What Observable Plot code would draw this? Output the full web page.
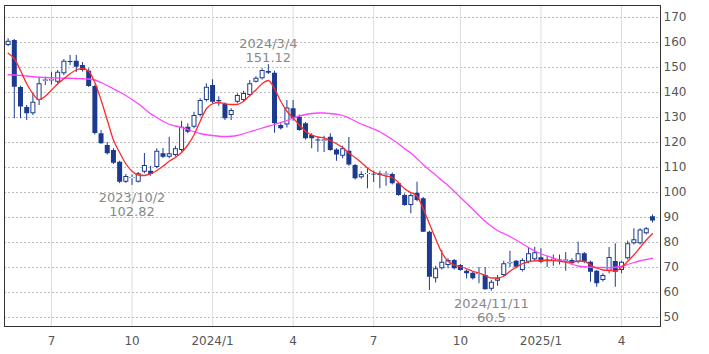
<!DOCTYPE html>
<html><head><meta charset="utf-8">
<script src="https://cdn.jsdelivr.net/npm/d3@7"></script>
<script src="https://cdn.jsdelivr.net/npm/@observablehq/plot@0.6"></script>
<style>body{margin:0;background:#fff;}</style>
</head><body><div id="chart"></div>
<script>
const weeks = ["2023-05-15","2023-05-22","2023-05-29","2023-06-05","2023-06-12","2023-06-19","2023-06-26",
"2023-07-03","2023-07-10","2023-07-17","2023-07-24","2023-07-31","2023-08-07","2023-08-14","2023-08-21","2023-08-28",
"2023-09-04","2023-09-11","2023-09-18","2023-09-25","2023-10-02","2023-10-09","2023-10-16","2023-10-23","2023-10-30",
"2023-11-06","2023-11-13","2023-11-20","2023-11-27","2023-12-04","2023-12-11","2023-12-18","2023-12-25",
"2024-01-01","2024-01-08","2024-01-15","2024-01-22","2024-01-29","2024-02-05","2024-02-12","2024-02-19","2024-02-26",
"2024-03-04","2024-03-11","2024-03-18","2024-03-25","2024-04-01","2024-04-08","2024-04-15","2024-04-22","2024-04-29",
"2024-05-06","2024-05-13","2024-05-20","2024-05-27","2024-06-03","2024-06-10","2024-06-17","2024-06-24",
"2024-07-01","2024-07-08","2024-07-15","2024-07-22","2024-07-29","2024-08-05","2024-08-12","2024-08-19","2024-08-26",
"2024-09-02","2024-09-09","2024-09-16","2024-09-23","2024-09-30","2024-10-07","2024-10-14","2024-10-21","2024-10-28",
"2024-11-04","2024-11-11","2024-11-18","2024-11-25","2024-12-02","2024-12-09","2024-12-16","2024-12-23","2024-12-30",
"2025-01-06","2025-01-13","2025-01-20","2025-01-27","2025-02-03","2025-02-10","2025-02-17","2025-02-24",
"2025-03-03","2025-03-10","2025-03-17","2025-03-24","2025-03-31","2025-04-07","2025-04-14","2025-04-21","2025-04-28",
"2025-05-05","2025-05-12"];

const open = [158.8,160.8,142.0,134.0,131.5,136.8,144.5,
144.6,144.1,147.5,152.4,152.5,150.8,148.5,142.4,123.5,
118.8,116.8,112.1,104.1,105.6,104.1,108.1,108.5,110.0,
115.5,114.1,114.8,116.8,126.1,126.1,130.8,136.8,
142.8,136.8,135.2,130.8,136.1,136.8,138.8,144.1,145.5,
148.4,147.7,126.8,127.0,133.5,130.1,127.5,122.8,121.0,
120.5,122.1,117.0,114.5,116.5,110.8,105.9,107.2,
107.3,107.4,107.0,107.2,103.5,98.8,94.8,99.7,97.5,
84.1,65.5,69.5,70.8,72.8,70.8,68.5,67.7,67.2,
66.8,61.3,64.5,66.8,71.5,72.5,68.8,72.1,73.1,
73.9,73.0,72.8,73.0,72.5,72.8,72.1,75.5,
72.1,68.5,64.8,68.5,72.4,68.8,73.5,79.5,79.5,
83.5,90.3];

const high = [161.5,161.2,142.5,134.8,139.5,146.1,146.1,
148.1,148.8,153.2,154.8,154.8,152.0,149.5,143.0,124.8,
120.0,117.5,112.5,107.2,107.0,108.0,115.6,110.5,117.5,
117.6,122.1,118.5,128.5,127.5,132.1,137.5,143.5,
145.1,138.3,135.8,133.5,139.5,140.5,144.8,146.3,149.5,
151.12,148.5,127.5,136.8,136.8,131.0,128.0,123.5,121.8,
122.5,123.5,117.5,118.5,122.0,111.2,108.3,109.5,
108.5,108.5,108.3,107.8,104.0,99.5,99.5,104.1,98.0,
84.5,70.5,76.8,73.5,73.2,71.2,69.0,68.2,70.0,
70.0,64.8,66.8,72.5,76.5,72.8,73.5,77.6,78.1,
77.5,74.5,75.0,75.0,76.0,73.5,80.1,76.0,
72.5,68.8,67.5,78.0,79.5,72.5,80.5,85.5,85.5,
86.0,91.0];

const low = [158.3,129.5,129.5,128.8,130.8,134.8,142.8,
143.0,143.5,146.8,150.8,148.0,148.2,142.0,123.0,119.3,
115.0,111.2,103.6,103.6,102.82,103.8,107.5,106.5,109.5,
113.6,113.5,114.2,116.2,123.5,125.5,130.2,136.2,
135.5,134.5,128.8,128.8,135.5,136.2,138.2,143.8,145.0,
147.2,123.7,125.0,125.8,128.5,124.5,121.0,117.5,116.1,
116.0,116.5,112.5,113.5,110.5,105.0,105.3,101.5,
104.0,101.5,102.5,103.0,98.5,94.5,91.5,96.3,84.0,
60.8,63.8,69.0,69.5,69.0,68.5,65.5,65.0,63.5,
61.0,60.5,62.5,66.5,70.0,69.5,68.2,71.5,72.5,
71.5,70.0,70.5,71.0,68.5,71.0,71.5,71.5,
64.1,62.1,64.2,67.5,62.1,67.5,73.0,79.0,79.0,
83.0,87.8];

const close = [160.5,142.1,134.2,131.5,136.1,143.5,145.0,
145.1,148.1,152.5,152.0,150.1,148.8,142.4,123.6,119.5,
115.5,111.7,104.1,106.4,105.9,107.5,110.8,107.2,116.5,
114.1,115.5,117.5,126.1,124.1,130.8,136.8,142.1,
136.1,136.3,129.5,132.8,138.8,139.6,143.5,145.7,148.8,
147.7,127.5,125.5,133.8,129.5,124.8,121.5,121.5,120.6,
121.0,116.8,115.0,117.5,111.0,105.5,107.2,107.6,
107.0,106.8,107.4,103.5,98.8,94.8,98.8,96.8,84.1,
66.1,69.5,72.1,72.8,69.5,68.8,67.5,65.5,67.6,
61.1,64.1,65.5,71.5,72.0,70.1,72.8,75.5,75.9,
72.1,72.4,73.3,72.6,73.0,71.5,75.5,72.1,
68.1,63.5,66.8,74.0,68.1,72.1,79.5,81.1,85.0,
85.5,88.6];

// short moving average (red)
const maShort = [155.7,153.5,148.8,143.5,139.5,137.1,138.5,
141.0,143.5,145.5,147.5,149.0,149.6,148.5,144.0,137.0,
129.0,121.0,116.0,111.5,108.5,107.0,106.8,107.5,108.8,
110.5,112.5,114.0,116.0,119.0,123.0,128.5,133.5,
135.5,136.0,135.5,135.2,135.2,136.5,138.8,141.0,143.5,
144.8,141.5,136.5,132.5,129.8,127.0,124.5,123.0,122.2,
121.8,120.8,119.5,118.0,115.8,114.0,112.0,109.8,
108.2,107.2,106.6,106.0,104.0,101.5,100.0,98.5,93.5,
87.5,81.5,76.0,72.5,71.0,70.3,69.5,68.5,67.8,
66.8,65.8,65.8,66.5,68.5,70.1,71.5,72.3,72.7,
72.8,72.8,72.8,72.5,72.2,72.2,72.5,72.5,
71.0,69.8,69.0,68.8,68.6,70.0,72.5,75.0,78.0,
81.0,83.5];

// long moving average (magenta)
const maLong = [147.1,147.0,146.8,146.6,146.3,146.1,146.0,
145.9,145.8,145.7,145.7,145.6,145.5,145.4,145.0,144.0,
142.8,141.5,140.2,138.8,137.2,135.5,133.5,131.5,130.0,
128.5,127.3,126.6,126.0,125.2,124.3,123.6,123.1,
122.8,122.5,122.4,122.5,122.8,123.5,124.3,125.0,125.8,
126.5,127.2,128.0,128.8,129.8,130.6,131.2,131.6,131.8,
131.8,131.6,131.3,130.8,129.8,128.6,127.4,126.4,
125.4,124.3,122.8,121.2,119.5,117.5,115.8,113.5,111.2,
109.0,107.0,104.8,102.8,100.5,98.0,95.7,93.3,90.8,
88.5,86.5,84.8,83.6,82.4,81.0,79.5,78.0,76.6,
75.5,74.6,73.8,73.0,72.2,71.3,70.6,70.3,
70.1,70.0,70.0,69.9,70.1,70.5,71.2,72.0,72.7,
73.2,73.7];

const tickDates = ["2023-07-03","2023-10-02","2024-01-01","2024-04-01","2024-07-01","2024-10-07","2025-01-06","2025-04-07"];
const tickLabels = ["7","10","2024/1","4","7","10","2025/1","4"];
const yTicks = [50,60,70,80,90,100,110,120,130,140,150,160,170];

const highNoteDates = ["2024-03-04"];
const highNoteValues = [151.12];
const highNoteLabels = ["2024/3/4\n151.12"];
const lowNoteDates = ["2023-10-02","2024-11-11"];
const lowNoteValues = [102.82,60.5];
const lowNoteLabels = ["2023/10/2\n102.82","2024/11/11\n60.5"];

const navy = "#1c3b8e";
const data = weeks.map((w, i) => ({
  date: new Date(w), open: open[i], high: high[i], low: low[i], close: close[i],
  top: Math.max(open[i], close[i]), bot: Math.min(open[i], close[i]),
  up: close[i] >= open[i], maS: maShort[i], maL: maLong[i]
}));
const tickObjs = tickDates.map(d => new Date(d));
const labelMap = new Map(tickObjs.map((d, i) => [+d, tickLabels[i]]));
const highNotes = highNoteDates.map((d, i) => ({date: new Date(d), v: highNoteValues[i], t: highNoteLabels[i]}));
const lowNotes = lowNoteDates.map((d, i) => ({date: new Date(d), v: lowNoteValues[i], t: lowNoteLabels[i]}));

const chart = Plot.plot({
  width: 709, height: 354,
  marginLeft: 4, marginRight: 49, marginTop: 5, marginBottom: 28,
  style: {fontFamily: "DejaVu Sans, Verdana, sans-serif", fontSize: "12px", color: "#555", background: "#fff"},
  x: {type: "utc", domain: [new Date("2023-05-10T22:00Z"), new Date("2025-05-21T02:00Z")],
      ticks: tickObjs, tickFormat: d => labelMap.get(+d), tickSize: 0, tickPadding: 10, label: null},
  y: {domain: [46.4, 174.8], axis: "right", ticks: yTicks, tickSize: 0, tickPadding: 3, label: null},
  marks: [
    Plot.ruleY(yTicks, {stroke: "#bbb", strokeDasharray: "2,2"}),
    Plot.ruleX(tickObjs, {stroke: "#ddd"}),
    Plot.ruleX(data, {x: "date", y1: "low", y2: "high", stroke: navy, strokeWidth: 1}),
    Plot.ruleX(data, {x: "date", y1: "top", y2: "bot", stroke: navy, strokeWidth: 5}),
    Plot.ruleX(data.filter(d => d.up), {x: "date", y1: "top", y2: "bot", stroke: "#fff", strokeWidth: 3, insetTop: 1, insetBottom: 1}),
    Plot.line(data, {x: "date", y: "maL", stroke: "#ff44ff", strokeWidth: 1.3, curve: "monotone-x"}),
    Plot.line(data, {x: "date", y: "maS", stroke: "#ff2a2a", strokeWidth: 1.3, curve: "monotone-x"}),
    Plot.text(highNotes, {x: "date", y: "v", text: "t", lineAnchor: "bottom", dy: -3, fill: "#888", fontSize: 13, lineHeight: 1.05}),
    Plot.text(lowNotes, {x: "date", y: "v", text: "t", lineAnchor: "top", dy: 7, fill: "#888", fontSize: 13, lineHeight: 1.05}),
    Plot.frame({stroke: "#333"})
  ]
});
document.getElementById("chart").appendChild(chart);
</script>
</body></html>
